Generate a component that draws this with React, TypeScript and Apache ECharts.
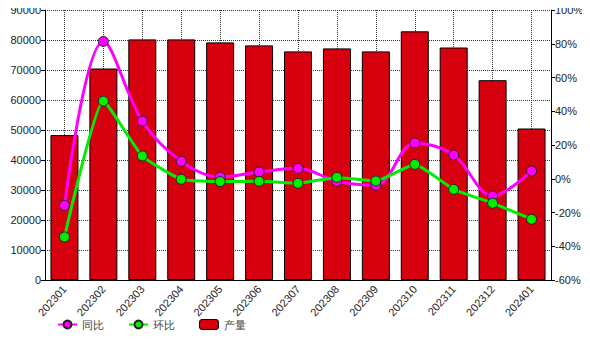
import React, { useEffect, useRef } from "react";
import * as echarts from "echarts";

const categories = ["202301", "202302", "202303", "202304", "202305", "202306", "202307", "202308", "202309", "202310", "202311", "202312", "202401"];
const output = [48300, 70500, 80200, 80200, 79200, 78200, 76200, 77200, 76200, 82900, 77500, 66600, 50500];
const yoy = [-15.8, 81.4, 34.2, 10.3, 1.0, 4.0, 6.2, -1.5, -3.9, 21.2, 14.1, -10.2, 4.6];
const mom = [-34.5, 46.0, 13.5, -0.3, -1.7, -1.5, -2.7, 0.8, -1.3, 8.5, -6.3, -14.5, -24.0];

const FONT = "'Liberation Sans', Arial, sans-serif";

export default function App() {
  const ref = useRef<HTMLDivElement>(null);
  useEffect(() => {
    if (!ref.current) return;
    const chart = echarts.init(ref.current, null, { renderer: "svg" });
    chart.setOption({
      animation: false,
      backgroundColor: "#ffffff",
      textStyle: { fontFamily: FONT },
      grid: { left: 45, right: 39, top: 10, bottom: 60, containLabel: false },
      legend: {
        left: 52,
        bottom: 5,
        itemWidth: 19,
        itemHeight: 10,
        itemGap: 24,
        textStyle: { fontSize: 11, color: "#444", fontFamily: FONT },
        data: [
          { name: "同比" },
          { name: "环比" },
          { name: "产量", itemStyle: { borderColor: "#000", borderWidth: 1 } },
        ],
      },
      xAxis: {
        type: "category",
        data: categories,
        boundaryGap: true,
        axisLine: { lineStyle: { color: "#000", width: 1 } },
        axisTick: { alignWithLabel: true, length: 4, lineStyle: { color: "#000" } },
        axisLabel: { rotate: 48, fontSize: 11, color: "#222", margin: 7, fontFamily: FONT },
        splitLine: { show: true, alignWithLabel: true, lineStyle: { color: "#333", type: "dotted", width: 1 } },
      },
      yAxis: [
        {
          type: "value",
          min: 0,
          max: 90000,
          interval: 10000,
          axisLine: { show: true, lineStyle: { color: "#000" } },
          axisTick: { show: true, length: 4, lineStyle: { color: "#000" } },
          axisLabel: { fontSize: 11, color: "#222", margin: 4, fontFamily: FONT, formatter: (v: number) => String(v) },
          splitLine: { show: true, lineStyle: { color: "#333", type: "dotted", width: 1 } },
        },
        {
          type: "value",
          min: -60,
          max: 100,
          interval: 20,
          axisLine: { show: true, lineStyle: { color: "#000" } },
          axisTick: { show: true, length: 4, lineStyle: { color: "#000" } },
          axisLabel: { fontSize: 11, color: "#222", margin: 4, formatter: "{value}%", fontFamily: FONT },
          splitLine: { show: false },
        },
      ],
      series: [
        {
          name: "产量",
          type: "bar",
          data: output,
          barWidth: 28,
          itemStyle: { color: "#d7000f", borderColor: "#000", borderWidth: 1 },
          z: 1,
        },
        {
          name: "同比",
          type: "line",
          yAxisIndex: 1,
          data: yoy,
          smooth: 0.35,
          symbol: "circle",
          symbolSize: 10,
          lineStyle: { color: "#ff00ff", width: 3 },
          itemStyle: { color: "#ff00ff", borderColor: "#222", borderWidth: 1 },
          z: 3,
        },
        {
          name: "环比",
          type: "line",
          yAxisIndex: 1,
          data: mom,
          smooth: 0.15,
          symbol: "circle",
          symbolSize: 10,
          lineStyle: { color: "#00ee00", width: 3 },
          itemStyle: { color: "#00ee00", borderColor: "#222", borderWidth: 1 },
          z: 4,
        },
      ],
    });
    return () => chart.dispose();
  }, []);
  return <div ref={ref} style={{ width: 590, height: 340, margin: -8 }} />;
}
